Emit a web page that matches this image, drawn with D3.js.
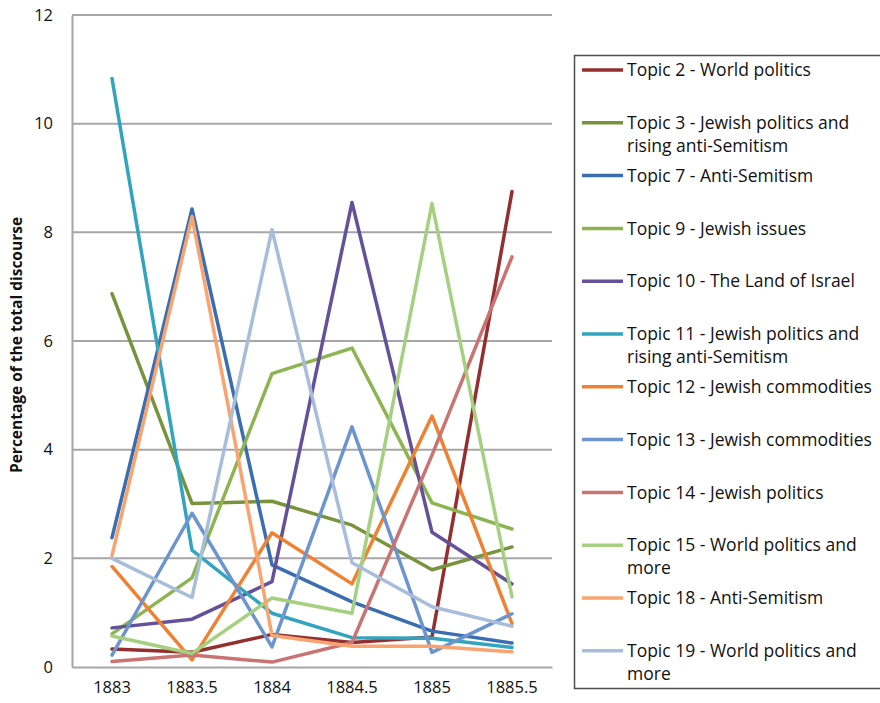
<!DOCTYPE html>
<html>
<head>
<meta charset="utf-8">
<script src="https://cdn.jsdelivr.net/npm/d3@7"></script>
<style>
  html, body { margin: 0; padding: 0; background: #ffffff; }
  svg { display: block; }
</style>
</head>
<body>
<svg id="chart" width="880" height="703"></svg>
<script>
// Periods on the category axis
const periods = ["1883", "1883.5", "1884", "1884.5", "1885", "1885.5"];

// Y axis tick values
const yTicks = [0, 2, 4, 6, 8, 10, 12];

// Topic names (legend order)
const topicNames = [
  "Topic 2 - World politics",
  "Topic 3 - Jewish politics and rising anti-Semitism",
  "Topic 7 - Anti-Semitism",
  "Topic 9 - Jewish issues",
  "Topic 10 - The Land of Israel",
  "Topic 11 - Jewish politics and rising anti-Semitism",
  "Topic 12 - Jewish commodities",
  "Topic 13 - Jewish commodities",
  "Topic 14 - Jewish politics",
  "Topic 15 - World politics and more",
  "Topic 18 - Anti-Semitism",
  "Topic 19 - World politics and more"
];

// Legend text split into rows
const legendLines = [
  ["Topic 2 - World politics"],
  ["Topic 3 - Jewish politics and", "rising anti-Semitism"],
  ["Topic 7 - Anti-Semitism"],
  ["Topic 9 - Jewish issues"],
  ["Topic 10 - The Land of Israel"],
  ["Topic 11 - Jewish politics and", "rising anti-Semitism"],
  ["Topic 12 - Jewish commodities"],
  ["Topic 13 - Jewish commodities"],
  ["Topic 14 - Jewish politics"],
  ["Topic 15 - World politics and", "more"],
  ["Topic 18 - Anti-Semitism"],
  ["Topic 19 - World politics and", "more"]
];

// Percentage of the total discourse per topic, one value per period
const topic2  = [0.33, 0.27, 0.60, 0.45, 0.55, 8.75];
const topic3  = [6.87, 3.01, 3.05, 2.61, 1.79, 2.21];
const topic7  = [2.38, 8.43, 1.88, 1.20, 0.66, 0.44];
const topic9  = [0.61, 1.64, 5.40, 5.87, 3.02, 2.54];
const topic10 = [0.72, 0.88, 1.57, 8.55, 2.48, 1.53];
const topic11 = [10.83, 2.15, 0.99, 0.54, 0.53, 0.36];
const topic12 = [1.85, 0.13, 2.47, 1.53, 4.62, 0.80];
const topic13 = [0.22, 2.83, 0.37, 4.42, 0.27, 0.98];
const topic14 = [0.10, 0.22, 0.09, 0.45, 3.90, 7.55];
const topic15 = [0.57, 0.25, 1.27, 0.99, 8.53, 1.29];
const topic18 = [2.05, 8.29, 0.58, 0.38, 0.38, 0.28];
const topic19 = [2.00, 1.28, 8.05, 1.92, 1.11, 0.75];

const seriesValues = [topic2, topic3, topic7, topic9, topic10, topic11,
                      topic12, topic13, topic14, topic15, topic18, topic19];

const colors = ["#93302f", "#77933c", "#3a6eb0", "#8cb450", "#65519a", "#32a5be",
                "#ee8232", "#6c95d0", "#c97372", "#a5d07f", "#f9a470", "#a7bdda"];

const svg = d3.select("#chart");
const font = "'Open Sans', 'Noto Sans', sans-serif";
const textColor = "#111111";

const plot = { left: 72, right: 552, top: 15, bottom: 667 };

const x = d3.scaleBand().domain(periods).range([plot.left, plot.right]);
const y = d3.scaleLinear().domain([0, 12]).range([plot.bottom, plot.top]);
const cx = p => x(p) + x.bandwidth() / 2;

// Horizontal gridlines
svg.append("g")
  .selectAll("line")
  .data(yTicks.filter(t => t > 0))
  .join("line")
  .attr("x1", plot.left).attr("x2", plot.right)
  .attr("y1", d => y(d)).attr("y2", d => y(d))
  .attr("stroke", "#a6a6a6").attr("stroke-width", 2);

// Y axis
const yAxis = svg.append("g")
  .attr("transform", `translate(${plot.left},0)`)
  .call(d3.axisLeft(y).tickValues(yTicks).tickSize(0).tickPadding(19));
yAxis.select(".domain").attr("stroke", "#a6a6a6").attr("stroke-width", 2);
yAxis.selectAll("text")
  .attr("font-family", font).attr("font-size", 16.5).attr("fill", textColor);

// X axis
const xAxis = svg.append("g")
  .attr("transform", `translate(0,${plot.bottom})`)
  .call(d3.axisBottom(x).tickSize(0).tickPadding(14));
xAxis.select(".domain").attr("stroke", "#a6a6a6").attr("stroke-width", 2);
xAxis.selectAll("text")
  .attr("font-family", font).attr("font-size", 16.5).attr("fill", textColor);

// Y axis title
svg.append("text")
  .attr("transform", `translate(22,${(plot.top + plot.bottom) / 2 + 4}) rotate(-90)`)
  .attr("text-anchor", "middle")
  .attr("font-family", font).attr("font-size", 15.5).attr("font-weight", "bold")
  .attr("fill", textColor)
  .text("Percentage of the total discourse");

// Series lines
const line = d3.line()
  .x((d, i) => cx(periods[i]))
  .y(d => y(d));

svg.append("g")
  .selectAll("path")
  .data(seriesValues)
  .join("path")
  .attr("d", d => line(d))
  .attr("fill", "none")
  .attr("stroke", (d, i) => colors[i])
  .attr("stroke-width", 3.5)
  .attr("stroke-linejoin", "round")
  .attr("stroke-linecap", "round");

// Legend
const legend = svg.append("g");
legend.append("rect")
  .attr("x", 574.5).attr("y", 55.5)
  .attr("width", 320).attr("height", 633)
  .attr("fill", "#ffffff").attr("stroke", "#4d4d4d").attr("stroke-width", 1.5);

const rowStart = 70, rowStep = 52.8;
const items = legend.selectAll("g.item")
  .data(topicNames)
  .join("g")
  .attr("class", "item")
  .attr("transform", (d, i) => `translate(0,${rowStart + i * rowStep})`);

items.append("line")
  .attr("x1", 582).attr("x2", 623)
  .attr("y1", 0).attr("y2", 0)
  .attr("stroke", (d, i) => colors[i])
  .attr("stroke-width", 3.5);

items.each(function(d, i) {
  const g = d3.select(this);
  legendLines[i].forEach((t, k) => {
    g.append("text")
      .attr("x", 627).attr("y", k * 23)
      .attr("dy", "0.35em")
      .attr("font-family", font).attr("font-size", 17.5)
      .attr("fill", textColor)
      .text(t);
  });
});
</script>
</body>
</html>
